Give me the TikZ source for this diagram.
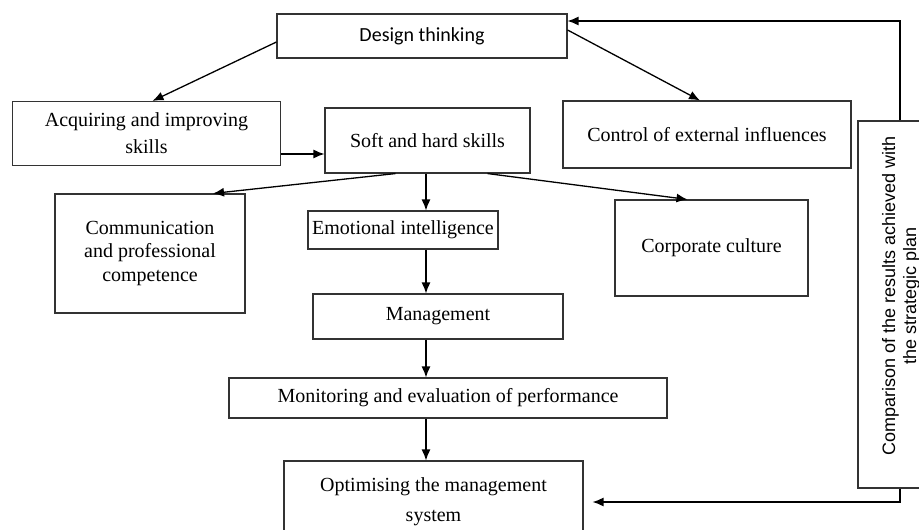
\documentclass[tikz,border=0pt]{standalone}
\usepackage{fontspec}
\setmainfont{Liberation Serif}
\newfontfamily\calibrifont{Carlito}
\newfontfamily\arialfont{Liberation Sans}
\usetikzlibrary{arrows.meta}

\tikzset{
  block/.style={draw=black!80, line width=1.1pt, align=center, inner sep=2pt,
    font=\fontsize{20}{23.5}\selectfont},
  arr/.style={-{Latex[length=11pt,width=9pt]}, line width=1.3pt}
}

\begin{document}
\begin{tikzpicture}[x=1pt,y=-1pt]
  \useasboundingbox (0,0) rectangle (919,530);
  \clip (0,0) rectangle (919,530);

  \node[block, minimum width=290pt, minimum height=44pt,
    font=\calibrifont\fontsize{20}{24}\selectfont] (design) at (422,36) {Design thinking};
  \node[block, minimum width=268pt, minimum height=64pt,
    font=\fontsize{20}{27}\selectfont] (acquire) at (146.5,133.5) {Acquiring and improving\\skills};
  \node[block, minimum width=205pt, minimum height=65pt] (soft) at (427.5,140.5) {Soft and hard skills};
  \node[block, minimum width=288pt, minimum height=67pt] (control) at (707,134.5) {Control of external influences};
  \node[block, minimum width=84pt, minimum height=367pt] (compare) at (900,304.5) {};
  \node[rotate=90, align=center, inner sep=0pt,
    font=\arialfont\fontsize{18}{21}\selectfont] (comparetext) at (901,296) {Comparison of the results achieved with\\the strategic plan};

  \node[block, minimum width=190pt, minimum height=119pt] (comm) at (150,253.5) {Communication\\and professional\\competence};
  \node[block, minimum width=190pt, minimum height=38pt] (emotion) at (403,230) {Emotional intelligence};
  \node[block, minimum width=193pt, minimum height=96pt] (corporate) at (711.5,248) {Corporate culture};
  \node[block, minimum width=250pt, minimum height=45pt] (manage) at (438,316.5) {Management};
  \node[block, minimum width=438pt, minimum height=40pt] (monitor) at (448,398) {Monitoring and evaluation of performance};
  \node[block, minimum width=299pt, minimum height=82pt,
    font=\fontsize{20}{30}\selectfont] (optimise) at (433.5,502) {Optimising the management\\system};

  \coordinate (spine) at (426,0);
  \coordinate (a2s) at (0,154);

  \draw[arr] ([yshift=-6pt]design.west) -- ([xshift=6pt]acquire.north);
  \draw[arr] ([yshift=6pt]design.east) -- ([xshift=-7pt]control.north);
  \draw[arr] (acquire.east |- a2s) -- (soft.west |- a2s);

  \draw[arr] ([xshift=-32pt]soft.south) -- ([xshift=63pt]comm.north);
  \draw[arr] ([xshift=60pt]soft.south) -- ([xshift=-24pt]corporate.north);
  \draw[arr] (spine |- soft.south) -- (spine |- emotion.north);
  \draw[arr] (spine |- emotion.south) -- (spine |- manage.north);
  \draw[arr] (spine |- manage.south) -- (spine |- monitor.north);
  \draw[arr] (spine |- monitor.south) -- (spine |- optimise.north);

  \draw[arr] (compare.north) |- ([yshift=15pt]design.east);
  \draw[arr] (compare.south) |- ([xshift=9pt]optimise.east);
\end{tikzpicture}
\end{document}
